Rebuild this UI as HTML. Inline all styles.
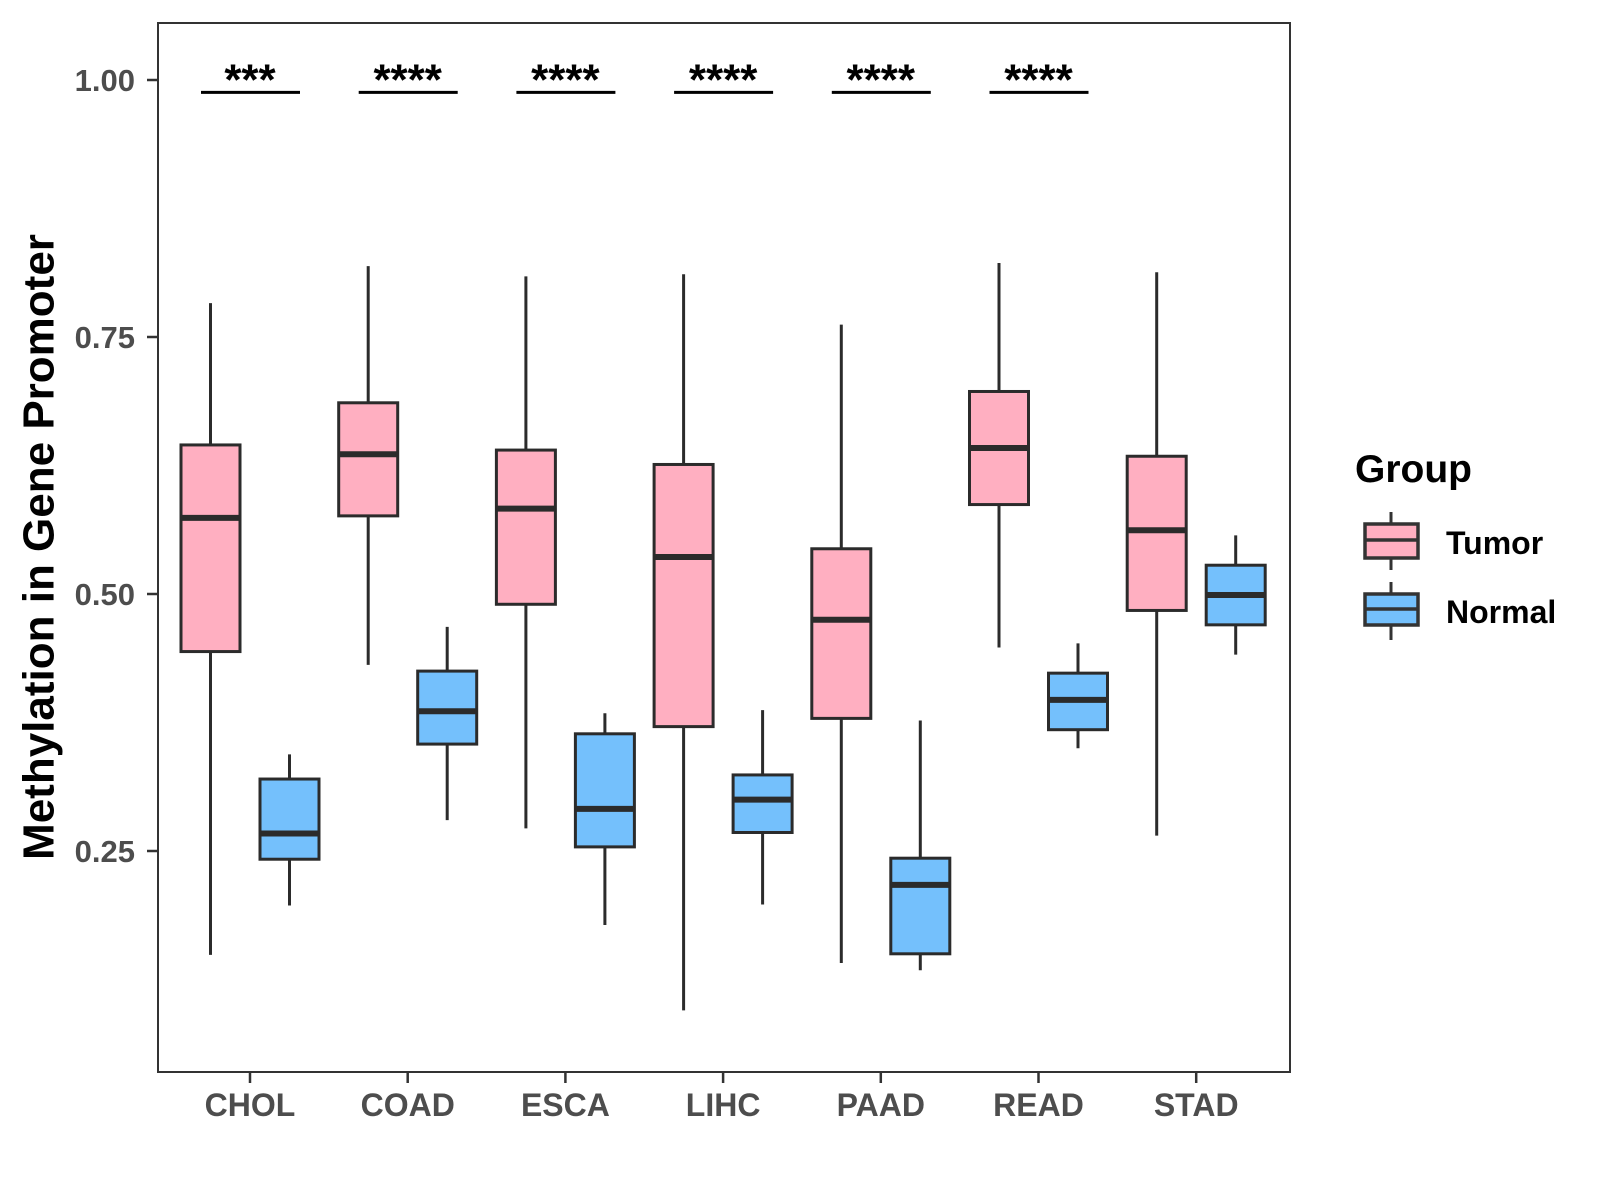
<!DOCTYPE html>
<html><head><meta charset="utf-8"><style>
html,body{margin:0;padding:0;background:#fff;}
svg{display:block;font-family:"Liberation Sans",Arial,sans-serif;font-weight:bold;}
</style></head><body>
<svg id="chart" width="1600" height="1200" viewBox="0 0 1600 1200">
<rect x="0" y="0" width="1600" height="1200" fill="#fff"/>
<g id="marks"></g>
<rect x="158" y="23" width="1132" height="1049" fill="none" stroke="#333" stroke-width="2"/>
<g id="axes"></g>
<text x="39" y="547" transform="rotate(-90 39 547)" text-anchor="middle" dominant-baseline="central" font-size="44" fill="#000">Methylation in Gene Promoter</text>
<g>
<text x="1355" y="482" font-size="39" fill="#000">Group</text>
<g>
<line x1="1391" y1="512" x2="1391" y2="570" stroke="#333" stroke-width="3"/>
<rect x="1365" y="524" width="53" height="34" fill="#FFAFC1" stroke="#333" stroke-width="3.5"/>
<line x1="1365" y1="540" x2="1418" y2="540" stroke="#333" stroke-width="3.5"/>
<text x="1446" y="554" font-size="32" fill="#000">Tumor</text>
</g>
<g>
<line x1="1391" y1="582" x2="1391" y2="640" stroke="#333" stroke-width="3"/>
<rect x="1365" y="594" width="53" height="31" fill="#74C0FC" stroke="#333" stroke-width="3.5"/>
<line x1="1365" y1="609" x2="1418" y2="609" stroke="#333" stroke-width="3.5"/>
<text x="1446" y="623" font-size="32" fill="#000">Normal</text>
</g>
</g>
</svg>
<script>
const categories=["CHOL","COAD","ESCA","LIHC","PAAD","READ","STAD"];
// [whiskerLow, Q1, median, Q3, whiskerHigh]
const tumor=[[0.149,0.444,0.574,0.645,0.783],[0.431,0.576,0.636,0.686,0.819],[0.272,0.490,0.583,0.640,0.809],[0.095,0.371,0.536,0.626,0.811],[0.141,0.379,0.475,0.544,0.762],[0.448,0.587,0.642,0.697,0.822],[0.265,0.484,0.562,0.634,0.813]];
const normal=[[0.197,0.242,0.267,0.320,0.344],[0.280,0.354,0.386,0.425,0.468],[0.178,0.254,0.291,0.364,0.384],[0.198,0.268,0.300,0.324,0.387],[0.134,0.150,0.217,0.243,0.377],[0.350,0.368,0.397,0.423,0.452],[0.441,0.470,0.499,0.528,0.557]];
const yTicks=[0.25,0.50,0.75,1.00];
const yTickLabels=["0.25","0.50","0.75","1.00"];
const signif=["***","****","****","****","****","****",""];
const signifY=0.988;

const NS="http://www.w3.org/2000/svg";
function y(v){return 80+(1-v)*1028;}
function x(i){return 250+i*157.7;}
const marks=document.getElementById('marks');
const axes=document.getElementById('axes');
function mk(tag,attrs,parent){const e=document.createElementNS(NS,tag);for(const k in attrs)e.setAttribute(k,attrs[k]);parent.appendChild(e);return e;}
function drawBox(s,cx,fill,name){
  const g=mk('g',{},marks);
  
  
  const hw=29.5;
  mk('line',{x1:cx,x2:cx,y1:y(s[4]),y2:y(s[0]),stroke:'#2b2b2b','stroke-width':3},g);
  mk('rect',{x:cx-hw,y:y(s[3]),width:2*hw,height:y(s[1])-y(s[3]),fill:fill,stroke:'#2b2b2b','stroke-width':3},g);
  mk('line',{x1:cx-hw,x2:cx+hw,y1:y(s[2]),y2:y(s[2]),stroke:'#2b2b2b','stroke-width':6},g);
}
categories.forEach((c,i)=>{
  drawBox(tumor[i],x(i)-39.5,'#FFAFC1','box-tumor-'+c.toLowerCase());
  drawBox(normal[i],x(i)+39.5,'#74C0FC','box-normal-'+c.toLowerCase());
  if(signif[i]){
    const l=mk('line',{x1:x(i)-49,x2:x(i)+50,y1:y(signifY),y2:y(signifY),stroke:'#000','stroke-width':3},marks);
    
    
    const t=mk('text',{x:x(i),y:y(signifY)+2,'text-anchor':'middle','font-size':44,fill:'#000'},marks);
    
    
    t.textContent=signif[i];
  }
  const tk=mk('line',{x1:x(i),x2:x(i),y1:1072,y2:1083,stroke:'#333','stroke-width':2.5},axes);
  
  
  const lb=mk('text',{x:x(i),y:1116,'text-anchor':'middle','font-size':32,fill:'#4d4d4d'},axes);
  
  
  lb.textContent=c;
});
yTicks.forEach((v,i)=>{
  const tk=mk('line',{x1:147,x2:158,y1:y(v),y2:y(v),stroke:'#333','stroke-width':2.5},axes);
  
  
  const lb=mk('text',{x:135,y:y(v)+11,'text-anchor':'end','font-size':31,fill:'#4d4d4d'},axes);
  
  
  lb.textContent=yTickLabels[i];
});
</script>
</body></html>
